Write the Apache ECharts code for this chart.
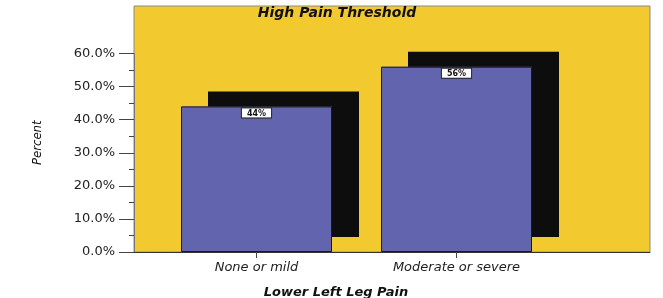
<!DOCTYPE html>
<html>
<head>
<meta charset="utf-8">
<script src="https://cdn.jsdelivr.net/npm/echarts@6.0.0/dist/echarts.min.js"></script>
<style>
  html, body { margin: 0; padding: 0; background: #fff; }
  #chart { width: 663px; height: 298px; }
</style>
</head>
<body>
<div id="chart"></div>
<script>
// data
const categories = ['None or mild', 'Moderate or severe'];
const percents = [44, 56];
const yTicks = [0, 10, 20, 30, 40, 50, 60];

const chart = echarts.init(document.getElementById('chart'));

const font = 'DejaVu Sans, sans-serif';
const yellow = '#F2C92E';

const option = {
  animation: false,
  backgroundColor: '#fff',
  title: {
    text: 'High Pain Threshold',
    left: 337,
    top: 6,
    textAlign: 'center',
    padding: 0,
    textStyle: { fontFamily: font, fontSize: 14, fontWeight: 'bold', fontStyle: 'italic', color: '#111' }
  },
  grid: [
    // yellow plot panel
    { left: 134, right: 13, top: 6, bottom: 46, outerBoundsMode: 'none', show: true, backgroundColor: yellow, borderColor: '#8a8a8a', borderWidth: 1 },
    // y axis scale (0-60)
    { left: 134, right: 13, top: 53.5, bottom: 46, outerBoundsMode: 'none' },
    // bars
    { left: 156.5, width: 400, top: 53.5, bottom: 46, outerBoundsMode: 'none' }
  ],
  xAxis: [
    { gridIndex: 0, type: 'value', show: false },
    {
      gridIndex: 1, type: 'value', min: 0, max: 1,
      axisLine: { show: true, lineStyle: { color: '#333', width: 1 } },
      axisTick: { show: false }, axisLabel: { show: false }, splitLine: { show: false }
    },
    {
      gridIndex: 2, type: 'category', data: categories,
      axisLine: { show: false },
      axisTick: { show: true, alignWithLabel: true, length: 6, lineStyle: { color: '#444' } },
      axisLabel: { margin: 9, fontFamily: font, fontSize: 13, fontStyle: 'italic', color: '#222' },
      name: 'Lower Left Leg Pain',
      nameLocation: 'middle',
      nameGap: 34,
      nameTextStyle: { fontFamily: font, fontSize: 13, fontWeight: 'bold', fontStyle: 'italic', color: '#111', padding: [0, 41, 0, 0] }
    }
  ],
  yAxis: [
    { gridIndex: 0, type: 'value', show: false },
    {
      gridIndex: 1, type: 'value', min: yTicks[0], max: yTicks[yTicks.length - 1], interval: 10,
      axisLine: { show: true, lineStyle: { color: '#777' } },
      axisTick: { show: true, length: 15, lineStyle: { color: '#444' } },
      minorTick: { show: true, splitNumber: 2, length: 5, lineStyle: { color: '#444' } },
      splitLine: { show: false },
      axisLabel: {
        margin: 19, fontFamily: font, fontSize: 13, color: '#222',
        formatter: v => v.toFixed(1) + '%'
      },
      name: 'Percent',
      nameLocation: 'middle',
      nameRotate: 90,
      nameGap: 90,
      nameTextStyle: { fontFamily: 'Liberation Sans Narrow, DejaVu Sans Condensed, sans-serif', fontSize: 13, fontStyle: 'italic', color: '#111', padding: [0, 0, 0, 20] }
    },
    { gridIndex: 2, type: 'value', min: 0, max: 60, show: false }
  ],
  series: [
    // filled bars casting the solid black offset shadow
    {
      type: 'bar',
      xAxisIndex: 2,
      yAxisIndex: 2,
      data: percents,
      barWidth: 151,
      clip: false,
      silent: true,
      itemStyle: {
        color: '#6265AD',
        borderWidth: 0,
        shadowColor: '#0d0d0d',
        shadowBlur: 0,
        shadowOffsetX: 27,
        shadowOffsetY: -15
      }
    },
    // outline + value label on top, no shadow
    {
      type: 'bar',
      xAxisIndex: 2,
      yAxisIndex: 2,
      data: percents,
      barWidth: 151,
      barGap: '-100%',
      clip: false,
      silent: true,
      itemStyle: {
        color: 'rgba(0,0,0,0)',
        borderColor: '#1a1a1a',
        borderWidth: 1
      },
      label: {
        show: true,
        position: 'insideTop',
        distance: 2,
        formatter: '{c}%',
        fontFamily: font,
        fontSize: 8,
        fontWeight: 'bold',
        color: '#111',
        backgroundColor: '#fff',
        borderColor: '#222',
        borderWidth: 1,
        padding: [1, 5, 0, 5]
      }
    }
  ]
};

chart.setOption(option);
</script>
</body>
</html>
